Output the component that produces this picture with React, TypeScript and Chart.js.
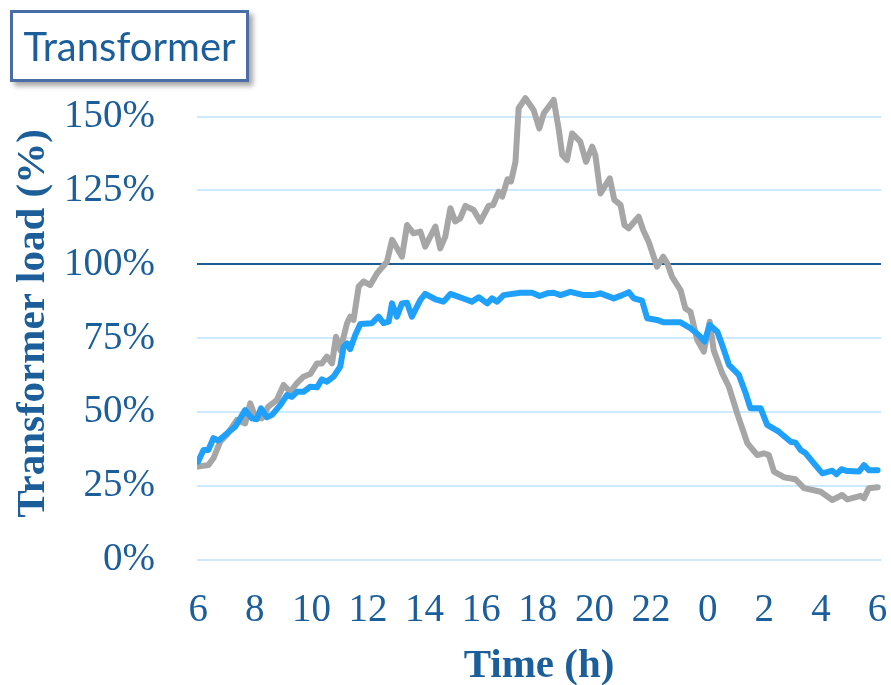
import React, { useEffect, useRef } from "react";
import { Chart, registerables } from "chart.js";

Chart.register(...registerables);

// Hours counted from 06:00 (0 = 6h, 24 = 6h next day)
const blueHours = [0.00, 0.19, 0.36, 0.54, 0.72, 1.13, 1.31, 1.66, 1.90, 2.07, 2.22, 2.43, 2.61, 2.90, 3.14, 3.31, 3.49, 3.72, 3.96, 4.20, 4.37, 4.55, 4.78, 5.02, 5.14, 5.26, 5.37, 5.55, 5.73, 6.14, 6.37, 6.55, 6.73, 6.85, 7.02, 7.20, 7.38, 7.55, 7.85, 8.02, 8.38, 8.67, 8.91, 9.44, 9.67, 9.91, 10.21, 10.38, 10.56, 10.79, 11.38, 11.80, 12.06, 12.33, 12.56, 12.80, 13.15, 13.62, 13.97, 14.21, 14.68, 14.98, 15.21, 15.39, 15.68, 15.86, 16.21, 16.45, 17.04, 17.39, 17.68, 17.89, 18.07, 18.34, 18.51, 18.75, 19.10, 19.34, 19.51, 19.87, 20.10, 20.51, 20.93, 21.10, 21.28, 21.46, 21.75, 22.05, 22.40, 22.55, 22.72, 22.93, 23.34, 23.52, 23.69, 24.00];
const blueLoad = [33.3, 37.2, 37.2, 41.2, 40.4, 43.7, 45.1, 50.7, 47.9, 47.6, 51.3, 48.3, 49.1, 52.4, 55.8, 55.2, 56.9, 56.9, 58.6, 58.4, 61.1, 60.3, 62.0, 65.4, 72.2, 73.3, 71.3, 76.1, 79.8, 80.1, 82.3, 80.1, 80.6, 86.8, 82.3, 86.8, 87.0, 82.3, 88.0, 90.0, 88.2, 87.4, 90.0, 88.2, 87.4, 88.9, 86.8, 88.5, 87.4, 89.6, 90.4, 90.4, 89.3, 90.2, 90.4, 89.6, 90.7, 89.6, 89.6, 90.2, 88.5, 89.6, 90.6, 88.5, 87.7, 81.8, 81.2, 80.4, 80.4, 78.4, 76.1, 73.9, 79.5, 77.2, 72.7, 66.0, 62.6, 56.4, 51.3, 51.3, 45.7, 43.4, 40.0, 39.7, 37.2, 36.1, 32.7, 29.3, 30.2, 29.0, 30.7, 30.1, 29.9, 32.1, 30.4, 30.4];

const grayHours = [0.00, 0.36, 0.54, 0.78, 1.01, 1.37, 1.66, 1.84, 2.01, 2.25, 2.48, 2.78, 3.02, 3.25, 3.49, 3.72, 3.96, 4.20, 4.37, 4.55, 4.73, 4.87, 5.02, 5.26, 5.37, 5.49, 5.67, 5.84, 6.08, 6.32, 6.67, 6.85, 7.20, 7.38, 7.61, 7.85, 8.02, 8.38, 8.55, 8.73, 8.91, 9.08, 9.26, 9.44, 9.73, 9.97, 10.26, 10.42, 10.62, 10.74, 10.93, 11.05, 11.21, 11.32, 11.56, 11.85, 12.05, 12.21, 12.56, 12.74, 12.86, 13.03, 13.21, 13.50, 13.70, 13.92, 14.03, 14.21, 14.54, 14.70, 14.92, 15.06, 15.21, 15.56, 15.72, 15.92, 16.21, 16.43, 16.57, 16.74, 17.04, 17.21, 17.39, 17.63, 17.86, 18.07, 18.21, 18.51, 18.75, 19.04, 19.40, 19.75, 19.98, 20.16, 20.34, 20.69, 21.10, 21.40, 21.99, 22.40, 22.75, 22.93, 23.40, 23.52, 23.69, 24.00];
const grayLoad = [31.6, 32.1, 34.4, 40.0, 42.3, 47.4, 46.2, 53.0, 48.5, 47.9, 51.9, 54.1, 59.2, 56.9, 59.8, 62.0, 62.9, 66.5, 66.5, 68.8, 66.5, 75.5, 71.0, 80.1, 82.3, 81.2, 92.5, 94.2, 93.0, 97.0, 100.9, 108.3, 102.6, 113.3, 110.5, 111.1, 106.0, 112.8, 105.4, 109.4, 119.0, 114.5, 115.6, 119.8, 118.4, 114.5, 119.8, 120.1, 124.6, 122.9, 128.8, 128.0, 134.7, 152.8, 156.2, 152.2, 146.0, 151.1, 155.6, 145.5, 137.0, 135.3, 144.3, 141.5, 134.7, 139.8, 137.0, 124.0, 129.1, 121.8, 120.1, 113.3, 112.2, 116.1, 111.6, 107.5, 99.2, 102.6, 100.4, 95.8, 91.3, 85.1, 84.0, 74.4, 70.5, 80.6, 71.0, 63.2, 58.6, 49.6, 39.5, 35.5, 36.1, 35.5, 29.9, 28.0, 27.3, 24.3, 23.1, 20.3, 22.0, 20.5, 21.7, 20.9, 24.3, 24.6];

const xTickHours = [0, 2, 4, 6, 8, 10, 12, 14, 16, 18, 20, 22, 24];
const yTickValues = [0, 25, 50, 75, 100, 125, 150];

const TEXT = "#1B5E9A";
const SERIF = "'Liberation Serif', 'Times New Roman', serif";

export default function App() {
  const ref = useRef<HTMLCanvasElement | null>(null);

  useEffect(() => {
    if (!ref.current) return;
    const chart = new Chart(ref.current, {
      type: "line",
      data: {
        datasets: [
          {
            label: "Blue",
            data: blueHours.map((h, i) => ({ x: h, y: blueLoad[i] })),
            borderColor: "#1FA0FA",
            borderWidth: 6,
            pointRadius: 0,
            tension: 0,
            borderJoinStyle: "round",
            borderCapStyle: "round",
          },
          {
            label: "Gray",
            data: grayHours.map((h, i) => ({ x: h, y: grayLoad[i] })),
            borderColor: "#A6A6A6",
            borderWidth: 6,
            pointRadius: 0,
            tension: 0,
            borderJoinStyle: "round",
            borderCapStyle: "round",
          },
        ],
      },
      options: {
        animation: false,
        responsive: false,
        devicePixelRatio: 1,
        layout: { padding: { top: 87, right: 0, left: 0, bottom: 0 } },
        plugins: { legend: { display: false }, tooltip: { enabled: false } },
        scales: {
          x: {
            type: "linear",
            min: -0.04,
            max: 24.12,
            afterBuildTicks: (axis: any) => {
              axis.ticks = xTickHours.map((v) => ({ value: v }));
            },
            afterFit: (axis: any) => {
              axis.height = 125;
              axis.paddingRight = 10;
              axis.paddingLeft = 0;
            },
            grid: { display: false },
            border: { display: false },
            ticks: {
              autoSkip: false,
              maxRotation: 0,
              color: TEXT,
              font: { family: SERIF, size: 39 },
              padding: 19,
              callback: (v: any) => String((Number(v) + 6) % 24),
            },
            title: {
              display: true,
              text: "Time (h)",
              color: TEXT,
              font: { family: SERIF, size: 41, weight: "bold" },
              padding: { top: 0, bottom: -6 },
            },
          },
          y: {
            type: "linear",
            min: 0,
            max: 160,
            afterBuildTicks: (axis: any) => {
              axis.ticks = yTickValues.map((v) => ({ value: v }));
            },
            afterFit: (axis: any) => {
              axis.width = 197;
            },
            border: { display: false },
            grid: {
              drawTicks: false,
              color: (ctx: any) => (ctx.tick && ctx.tick.value === 100 ? "#1F5C94" : "#CDE9FB"),
              lineWidth: 2,
            },
            ticks: {
              color: TEXT,
              font: { family: SERIF, size: 39 },
              padding: 42,
              callback: (v: any) => `${v}%`,
            },
            title: {
              display: true,
              text: "Transformer load (%)",
              color: TEXT,
              font: { family: SERIF, size: 41, weight: "bold" },
              padding: { top: 9, bottom: 0 },
            },
          },
        },
      },
    });
    return () => chart.destroy();
  }, []);

  return (
    <div style={{ position: "fixed", left: 0, top: 0, width: 891, height: 685, background: "#fff" }}>
      <canvas ref={ref} width={891} height={685} style={{ position: "absolute", left: 0, top: 0 }} />
      <div
        style={{
          position: "absolute",
          left: 10,
          top: 10,
          width: 233,
          height: 66,
          border: "3px solid #4A6DA7",
          background: "#fff",
          boxShadow: "4px 4px 5px rgba(0,0,0,0.35)",
          color: TEXT,
          fontFamily: "Lato, 'Open Sans', sans-serif",
          fontSize: 40,
          lineHeight: "66px",
          textAlign: "center",
          whiteSpace: "nowrap",
        }}
      >
        Transformer
      </div>
    </div>
  );
}
